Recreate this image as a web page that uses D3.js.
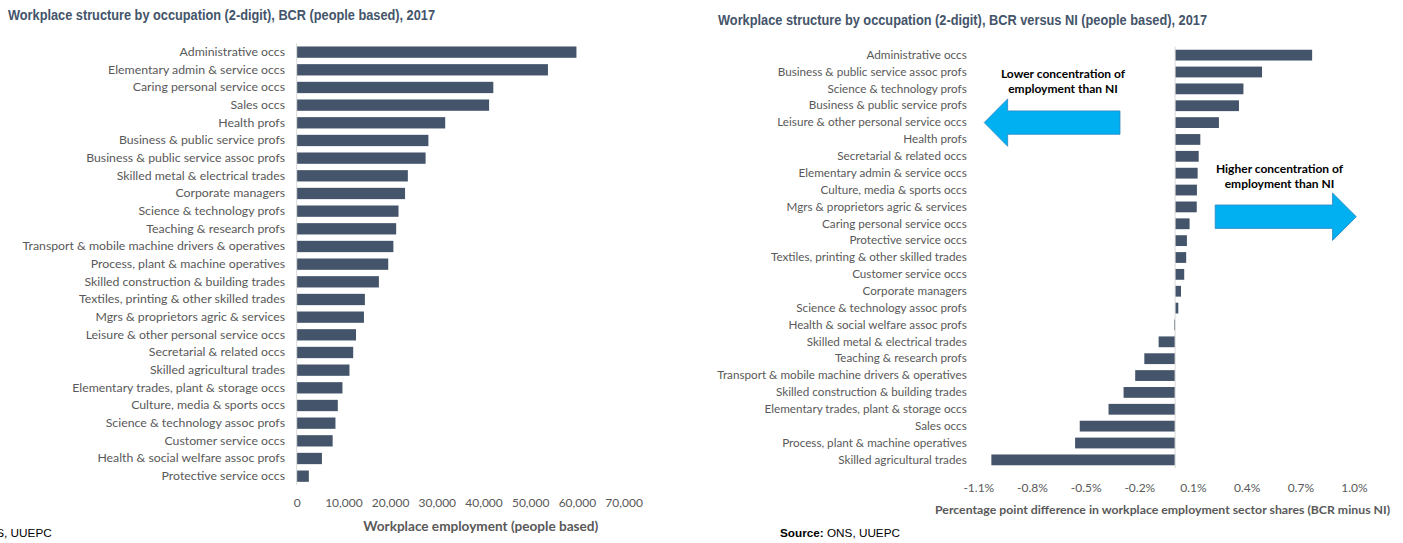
<!DOCTYPE html>
<html>
<head>
<meta charset="utf-8">
<script src="https://cdn.jsdelivr.net/npm/d3@7"></script>
<style>
  html, body { margin: 0; padding: 0; background: #fff; }
  svg { display: block; }
</style>
</head>
<body>
<svg id="chart" width="1403" height="543"></svg>
<script>
// Workplace employment by occupation, BCR, 2017
const empCategories = [
  "Administrative occs", "Elementary admin & service occs", "Caring personal service occs",
  "Sales occs", "Health profs", "Business & public service profs",
  "Business & public service assoc profs", "Skilled metal & electrical trades", "Corporate managers",
  "Science & technology profs", "Teaching & research profs",
  "Transport & mobile machine drivers & operatives", "Process, plant & machine operatives",
  "Skilled construction & building trades", "Textiles, printing & other skilled trades",
  "Mgrs & proprietors agric & services", "Leisure & other personal service occs",
  "Secretarial & related occs", "Skilled agricultural trades",
  "Elementary trades, plant & storage occs", "Culture, media & sports occs",
  "Science & technology assoc profs", "Customer service occs",
  "Health & social welfare assoc profs", "Protective service occs"
];
const empValues = [
  59900, 53800, 42100, 41200, 31800, 28200, 27600, 23800, 23200, 21800, 21300, 20700, 19600,
  17600, 14600, 14400, 12700, 12100, 11300, 9800, 8800, 8300, 7700, 5400, 2600
];
const empTicks = [0, 10000, 20000, 30000, 40000, 50000, 60000, 70000];

// Percentage point difference in sector shares, BCR minus NI
const diffCategories = [
  "Administrative occs", "Business & public service assoc profs", "Science & technology profs",
  "Business & public service profs", "Leisure & other personal service occs", "Health profs",
  "Secretarial & related occs", "Elementary admin & service occs", "Culture, media & sports occs",
  "Mgrs & proprietors agric & services", "Caring personal service occs", "Protective service occs",
  "Textiles, printing & other skilled trades", "Customer service occs", "Corporate managers",
  "Science & technology assoc profs", "Health & social welfare assoc profs",
  "Skilled metal & electrical trades", "Teaching & research profs",
  "Transport & mobile machine drivers & operatives", "Skilled construction & building trades",
  "Elementary trades, plant & storage occs", "Sales occs", "Process, plant & machine operatives",
  "Skilled agricultural trades"
];
const diffValues = [
  0.766, 0.486, 0.382, 0.357, 0.245, 0.141, 0.132, 0.126, 0.122, 0.121, 0.081, 0.066, 0.062,
  0.051, 0.033, 0.018, -0.005, -0.092, -0.172, -0.223, -0.288, -0.372, -0.533, -0.559, -1.027
];
const diffTicks = [-1.1, -0.8, -0.5, -0.2, 0.1, 0.4, 0.7, 1.0];

const BAR = "#44546A";
const GREY_TEXT = "#595959";
const AXIS_LINE = "#D9D9D9";
const TITLE = "#44546A";
const ARROW = "#00B0F0";
const LABEL_FONT = "Lato, 'Open Sans', sans-serif";
const TITLE_FONT = "'Liberation Sans', Arial, sans-serif";

const svg = d3.select("#chart");

function styleAxisText(g, size) {
  g.select(".domain").remove();
  g.selectAll(".tick line").remove();
  g.selectAll(".tick text")
    .attr("fill", GREY_TEXT)
    .style("font-family", LABEL_FONT)
    .style("font-size", size + "px");
}

function source(x, anchor) {
  const t = svg.append("text")
    .attr("x", x).attr("y", 537).attr("text-anchor", anchor)
    .attr("textLength", 120).attr("lengthAdjust", "spacingAndGlyphs")
    .attr("fill", "#000")
    .style("font-family", TITLE_FONT).style("font-size", "11px");
  t.append("tspan").style("font-weight", "bold").text("Source:");
  t.append("tspan").text(" ONS, UUEPC");
}

/* ---------- Left panel: employment levels ---------- */
{
  const x = d3.scaleLinear().domain([0, 70000]).range([296.7, 623.6]);
  const y = d3.scaleBand().domain(empCategories).range([43.3, 485])
    .paddingInner(0.36).paddingOuter(0.18);

  svg.append("text")
    .attr("x", 8).attr("y", 20)
    .attr("textLength", 427).attr("lengthAdjust", "spacingAndGlyphs")
    .attr("fill", TITLE)
    .style("font-family", TITLE_FONT).style("font-weight", "bold").style("font-size", "14px")
    .text("Workplace structure by occupation (2-digit), BCR (people based), 2017");

  svg.append("g").selectAll("rect")
    .data(empValues)
    .join("rect")
    .attr("x", x(0))
    .attr("y", (d, i) => y(empCategories[i]))
    .attr("width", d => x(d) - x(0))
    .attr("height", y.bandwidth())
    .attr("fill", BAR);

  svg.append("line")
    .attr("x1", x(0)).attr("x2", x(0))
    .attr("y1", y.range()[0]).attr("y2", y.range()[1])
    .attr("stroke", AXIS_LINE).attr("stroke-width", 1);

  svg.append("g")
    .attr("transform", `translate(${x(0)},0)`)
    .call(d3.axisLeft(y).tickSize(0).tickPadding(11.7))
    .call(g => styleAxisText(g, 12.3));

  svg.append("g")
    .attr("transform", "translate(0,498)")
    .call(d3.axisBottom(x).tickValues(empTicks).tickSize(0).tickPadding(0)
      .tickFormat(d3.format(",")))
    .call(g => styleAxisText(g, 12))
    .call(g => g.selectAll(".tick text").attr("dy", "0.71em"));

  svg.append("text")
    .attr("x", 480.8).attr("y", 531)
    .attr("text-anchor", "middle")
    .attr("textLength", 235).attr("lengthAdjust", "spacingAndGlyphs")
    .attr("fill", GREY_TEXT)
    .style("font-family", LABEL_FONT).style("font-weight", "bold").style("font-size", "12.5px")
    .text("Workplace employment (people based)");

  source(51.7, "end");
}

/* ---------- Right panel: BCR versus NI ---------- */
{
  const x = d3.scaleLinear().domain([-1.1, 1.0]).range([978.3, 1354]);
  const y = d3.scaleBand().domain(diffCategories).range([46.7, 468.3])
    .paddingInner(0.36).paddingOuter(0.18);

  svg.append("text")
    .attr("x", 718).attr("y", 25)
    .attr("textLength", 489).attr("lengthAdjust", "spacingAndGlyphs")
    .attr("fill", TITLE)
    .style("font-family", TITLE_FONT).style("font-weight", "bold").style("font-size", "14px")
    .text("Workplace structure by occupation (2-digit), BCR versus NI (people based), 2017");

  svg.append("g").selectAll("rect")
    .data(diffValues)
    .join("rect")
    .attr("x", d => x(Math.min(0, d)))
    .attr("y", (d, i) => y(diffCategories[i]))
    .attr("width", d => Math.abs(x(d) - x(0)))
    .attr("height", y.bandwidth())
    .attr("fill", BAR);

  svg.append("line")
    .attr("x1", x(0)).attr("x2", x(0))
    .attr("y1", y.range()[0]).attr("y2", y.range()[1])
    .attr("stroke", AXIS_LINE).attr("stroke-width", 1);

  svg.append("g")
    .attr("transform", `translate(${x.range()[0]},0)`)
    .call(d3.axisLeft(y).tickSize(0).tickPadding(11.6))
    .call(g => styleAxisText(g, 11.7));

  svg.append("g")
    .attr("transform", "translate(0,483)")
    .call(d3.axisBottom(x).tickValues(diffTicks).tickSize(0).tickPadding(0)
      .tickFormat(d => d.toFixed(1) + "%"))
    .call(g => styleAxisText(g, 12))
    .call(g => g.selectAll(".tick text").attr("dy", "0.71em"));

  svg.append("text")
    .attr("x", 1162.5).attr("y", 514)
    .attr("text-anchor", "middle")
    .attr("textLength", 455).attr("lengthAdjust", "spacingAndGlyphs")
    .attr("fill", GREY_TEXT)
    .style("font-family", LABEL_FONT).style("font-weight", "bold").style("font-size", "12px")
    .text("Percentage point difference in workplace employment sector shares (BCR minus NI)");

  source(780, "start");

  // Direction arrows: geometry in axis units (x in %, y in band steps from the top)
  const step = y.step();
  const y0 = y.range()[0];
  function arrow(tail, headBase, tip, rowCentre) {
    const cy = y0 + rowCentre * step;
    const s = 11.7, h = 23.7;
    const xt = x(tail), xb = x(headBase), xp = x(tip);
    return `M${xt},${cy - s} L${xb},${cy - s} L${xb},${cy - h} L${xp},${cy} ` +
           `L${xb},${cy + h} L${xb},${cy + s} L${xt},${cy + s} Z`;
  }
  svg.append("path")
    .attr("d", arrow(-0.308, -0.936, -1.067, 4.5))
    .attr("fill", ARROW).attr("stroke", "#2E86C1").attr("stroke-width", 0.8);
  svg.append("path")
    .attr("d", arrow(0.224, 0.880, 1.013, 10.08))
    .attr("fill", ARROW).attr("stroke", "#2E86C1").attr("stroke-width", 0.8);

  function note(cx, lines, top) {
    const t = svg.append("text")
      .attr("text-anchor", "middle")
      .attr("fill", "#000")
      .style("font-family", LABEL_FONT).style("font-weight", "bold").style("font-size", "12px");
    lines.forEach((l, i) => t.append("tspan").attr("x", cx).attr("y", top + i * 15.7).text(l));
  }
  note(1063, ["Lower concentration of", "employment than NI"], 77.5);
  note(1279.5, ["Higher concentration of", "employment than NI"], 172.5);
}
</script>
</body>
</html>
